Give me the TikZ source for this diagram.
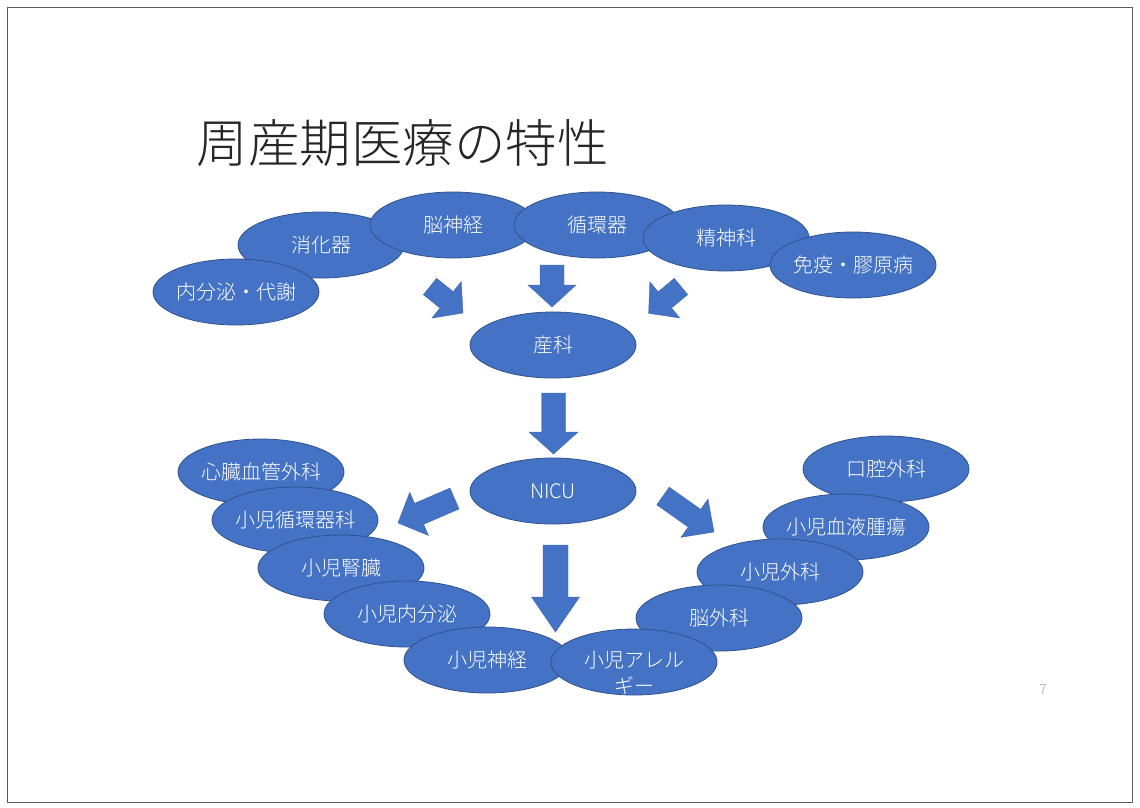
\documentclass[tikz,border=0pt]{standalone}
\usepackage{fontspec}
\newfontfamily\jp{Noto Sans CJK JP Light}
\usetikzlibrary{shapes.geometric}
\definecolor{ppblue}{HTML}{4472C4}
\definecolor{ppedge}{HTML}{2F528F}
\tikzset{
  ell/.style={ellipse, fill=ppblue, draw=ppedge, line width=0.8pt, minimum width=166pt, minimum height=66pt, inner sep=0pt, text=white, font=\jp\fontsize{20}{26}\selectfont},
  etext/.style={text=white, font=\jp\fontsize{20}{26}\selectfont, inner sep=0pt},
  bigarrow/.style={fill=ppblue, draw=ppblue!90!black, line width=0.4pt},
  frame/.style={draw=black!65, line width=1.2pt}
}
\newcommand{\etxt}[1]{\makebox[0pt]{#1}}
\newcommand{\blockarrow}[6]{%
  \begin{scope}[shift={#1}, rotate=#2]
    \filldraw[bigarrow] (0,-#6) -- ({#3-#4},-#6) -- ({#3-#4},-#5) -- (#3,0) -- ({#3-#4},#5) -- ({#3-#4},#6) -- (0,#6) -- cycle;
  \end{scope}}

\begin{document}
\begin{tikzpicture}[x=1pt, y=-1pt]
  \useasboundingbox (0,0) rectangle (1140,807);
  \fill[white] (0,0) rectangle (1140,807);
  \draw[frame] (7.5,7.5) rectangle (1132.5,802.5);

  \node[anchor=west, font=\jp\fontsize{51.5}{60}\selectfont, text=black!85] (title) at (193,143) {周産期医療の特性};

  \node[ell] (shoka) at (321,245) {\etxt{消化器}};
  \node[ell] (noshin) at (453,225) {\etxt{脳神経}};
  \node[ell] (junkan) at (597,225) {\etxt{循環器}};
  \node[ell] (seishin) at (726,238) {\etxt{精神科}};
  \node[ell] (meneki) at (853,265) {\etxt{免疫・膠原病}};
  \node[ell] (naibun) at (236,292) {\etxt{内分泌・代謝}};

  \blockarrow{(430,286.5)}{-38.8}{42.3}{21}{23.4}{10.5}
  \blockarrow{(552,265)}{-90}{42}{22}{24}{12}
  \blockarrow{(681,286.5)}{219.6}{42}{21}{23.5}{10.5}

  \node[ell] (sanka) at (553,345) {\etxt{産科}};
  \blockarrow{(553.5,393)}{-90}{61}{22}{24.5}{12}
  \node[ell] (nicu) at (553,491) {\etxt{NICU}};

  \blockarrow{(454.5,498.5)}{203.4}{61.6}{23}{23.5}{11.4}
  \blockarrow{(663,496)}{-35.2}{62.4}{23.9}{23.4}{10.8}
  \blockarrow{(555.5,545)}{-90}{87}{35}{24}{12.5}

  \node[ell] (shinzo) at (261,472) {\etxt{心臓血管外科}};
  \node[ell] (shojunkan) at (295,520) {\etxt{小児循環器科}};
  \node[ell] (jinzo) at (341,568) {\etxt{小児腎臓}};
  \node[ell] (shonaibun) at (407,614) {\etxt{小児内分泌}};
  \node[ell] (shoshinkei) at (487,660) {\etxt{小児神経}};

  \node[ell] (koku) at (886,469) {\etxt{口腔外科}};
  \node[ell] (ketsueki) at (846,527) {\etxt{小児血液腫瘍}};
  \node[ell] (shogeka) at (780,572) {\etxt{小児外科}};
  \node[ell] (nogeka) at (719,618) {\etxt{脳外科}};
  \node[ell] (allergy) at (634,662) {};
  \node[etext, align=center] (allergytxt) at (634,673) {小児アレル\\ギー};

  \node[text=black!35, font=\jp\fontsize{14}{16}\selectfont] (pagenum) at (1043,690) {7};
\end{tikzpicture}
\end{document}
